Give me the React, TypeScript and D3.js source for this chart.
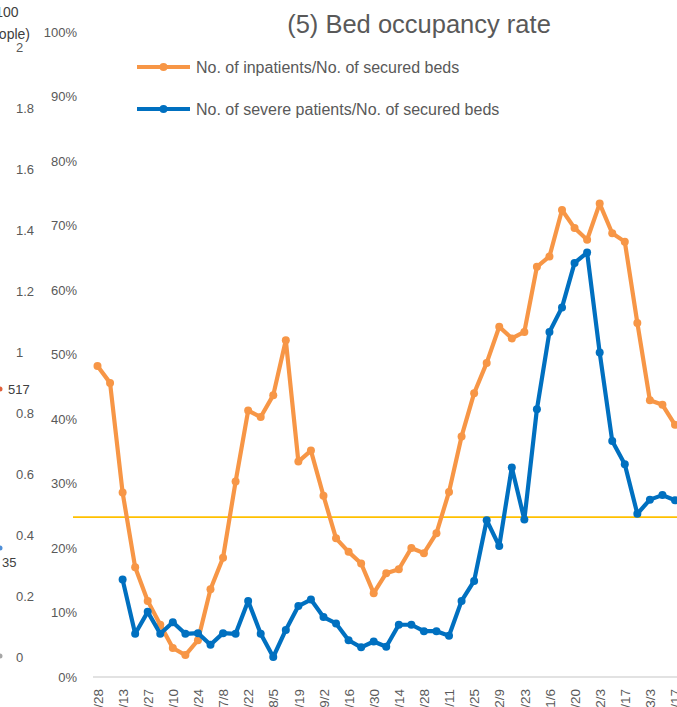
import React, { useRef, useEffect } from 'react';
import { select, scaleLinear, scalePoint, line, axisLeft, axisBottom } from 'd3';

// weekly dates (x categories)
const weeks = [
  '4/28', '5/6', '5/13', '5/20', '5/27', '6/3', '6/10', '6/17', '6/24', '7/1',
  '7/8', '7/15', '7/22', '7/29', '8/5', '8/12', '8/19', '8/26', '9/2', '9/9',
  '9/16', '9/23', '9/30', '10/7', '10/14', '10/21', '10/28', '11/4', '11/11', '11/18',
  '11/25', '12/2', '12/9', '12/16', '12/23', '12/30', '1/6', '1/13', '1/20', '1/27',
  '2/3', '2/10', '2/17', '2/24', '3/3', '3/10', '3/17',
];

// No. of inpatients / No. of secured beds (%)
const inpatientRate = [
  48.2, 45.6, 28.6, 17.0, 11.8, 8.1, 4.5, 3.4, 5.7, 13.6,
  18.5, 30.3, 41.3, 40.3, 43.7, 52.2, 33.4, 35.1, 28.1, 21.5,
  19.4, 17.6, 13.0, 16.1, 16.7, 20.0, 19.2, 22.3, 28.7, 37.3,
  44.0, 48.7, 54.3, 52.5, 53.5, 63.6, 65.2, 72.4, 69.6, 67.8,
  73.4, 68.8, 67.5, 54.9, 42.9, 42.2, 39.1,
];

// No. of severe patients / No. of secured beds (%), starts 5/13
const severeRate = [
  null, null, 15.1, 6.7, 10.1, 6.7, 8.5, 6.7, 6.8, 5.0,
  6.8, 6.7, 11.8, 6.7, 3.1, 7.3, 11.0, 12.0, 9.3, 8.3,
  5.7, 4.6, 5.5, 4.7, 8.1, 8.1, 7.1, 7.1, 6.4, 11.8,
  14.9, 24.3, 20.3, 32.5, 24.4, 41.5, 53.5, 57.3, 64.2, 65.8,
  50.3, 36.6, 33.0, 25.3, 27.5, 28.2, 27.4,
];

const thresholdValue = 24.8;
const pctTicks = [0, 10, 20, 30, 40, 50, 60, 70, 80, 90, 100];
// remains of the neighbouring chart's axis on the left edge
const leftTicks = [0, 0.2, 0.4, 0.6, 0.8, 1, 1.2, 1.4, 1.6, 1.8, 2];

const series = [
  { name: 'No. of inpatients/No. of secured beds', values: inpatientRate, color: '#F79646' },
  { name: 'No. of severe patients/No. of secured beds', values: severeRate, color: '#0070C0' },
];

const W = 677;
const H = 707;
const FONT = '"Liberation Sans", Arial, sans-serif';
const GREY = '#595959';

function BedChart() {
  const svgRef = useRef<SVGSVGElement>(null);

  useEffect(() => {
    const svg = select(svgRef.current);
    svg.selectAll('*').remove();

    const x = scalePoint<number>()
      .domain(weeks.map((d, i) => i))
      .range([97.5, 675]);
    const y = scaleLinear().domain([0, 100]).range([677, 32]);
    const yLeft = scaleLinear().domain([0, 2]).range([657, 47]);

    // clipped neighbour axis
    const gl = svg.append('g').attr('transform', 'translate(16,0)');
    gl.call(axisLeft(yLeft).tickValues(leftTicks).tickSize(0).tickFormat((d) => String(d)));
    gl.select('.domain').remove();
    gl.selectAll('text')
      .attr('text-anchor', 'start')
      .attr('x', 0)
      .attr('fill', GREY)
      .style('font-size', '13px')
      .style('font-family', FONT);

    // neighbour chart label fragments
    const frag = [
      { t: '(100', x: 18.5, y: 17, anchor: 'end', size: 14 },
      { t: '(people)', x: 30, y: 39, anchor: 'end', size: 14 },
      { t: '517', x: 8, y: 394, anchor: 'start', size: 13 },
      { t: '35', x: 2, y: 567, anchor: 'start', size: 13 },
    ];
    svg.selectAll('.frag')
      .data(frag)
      .join('text')
      .attr('class', 'frag')
      .attr('x', (d) => d.x)
      .attr('y', (d) => d.y)
      .attr('text-anchor', (d) => d.anchor)
      .attr('fill', '#404040')
      .style('font-size', (d) => `${d.size}px`)
      .style('font-family', FONT)
      .text((d) => d.t);
    svg.selectAll('.fragdot')
      .data([
        { y: 389, c: '#E0603A' },
        { y: 548, c: '#4F8FD8' },
        { y: 656, c: '#A6A6A6' },
      ])
      .join('circle')
      .attr('cx', 0)
      .attr('cy', (d) => d.y)
      .attr('r', 2.5)
      .attr('fill', (d) => d.c);

    // percent axis
    const gy = svg.append('g').attr('transform', 'translate(77,0)');
    gy.call(axisLeft(y).tickValues(pctTicks).tickSize(0).tickFormat((d) => `${d}%`));
    gy.select('.domain').remove();
    gy.selectAll('text')
      .attr('x', 0)
      .attr('fill', GREY)
      .style('font-size', '13px')
      .style('font-family', FONT);

    // x axis
    const gx = svg.append('g').attr('transform', `translate(0,${y(0)})`);
    gx.call(
      axisBottom(x)
        .tickValues(weeks.map((d, i) => i).filter((i) => i % 2 === 0))
        .tickSize(0)
        .tickFormat((i) => weeks[i as number])
    );
    gx.select('.domain').attr('stroke', '#D9D9D9').attr('stroke-width', 1.5).attr('d', `M93,0H${W}`);
    gx.selectAll('text')
      .attr('transform', 'rotate(-90)')
      .attr('text-anchor', 'end')
      .attr('x', -12)
      .attr('y', 0)
      .attr('dy', '0.35em')
      .attr('fill', GREY)
      .style('font-size', '13.5px')
      .style('font-family', FONT);

    // threshold line
    svg.append('line')
      .attr('x1', 73)
      .attr('x2', W)
      .attr('y1', y(thresholdValue))
      .attr('y2', y(thresholdValue))
      .attr('stroke', '#FFC000')
      .attr('stroke-width', 1.8);

    const lineGen = line<number | null>()
      .defined((d) => d != null)
      .x((d, i) => x(i) as number)
      .y((d) => y(d as number));

    series.forEach((s) => {
      svg.append('path')
        .datum(s.values)
        .attr('fill', 'none')
        .attr('stroke', s.color)
        .attr('stroke-width', 4.2)
        .attr('stroke-linejoin', 'round')
        .attr('d', lineGen);
      svg.append('g')
        .selectAll('circle')
        .data(s.values.map((v, i) => ({ v, i })).filter((d) => d.v != null))
        .join('circle')
        .attr('cx', (d) => x(d.i) as number)
        .attr('cy', (d) => y(d.v as number))
        .attr('r', 4)
        .attr('fill', s.color);
    });

    // title
    svg.append('text')
      .attr('x', 419)
      .attr('y', 33)
      .attr('text-anchor', 'middle')
      .attr('fill', GREY)
      .style('font-size', '25.5px')
      .style('font-family', FONT)
      .text('(5) Bed occupancy rate');

    // legend
    const lg = svg.selectAll('.legend')
      .data(series)
      .join('g')
      .attr('class', 'legend')
      .attr('transform', (d, i) => `translate(137,${67 + i * 42})`);
    lg.append('line')
      .attr('x1', 0)
      .attr('x2', 53)
      .attr('stroke', (d) => d.color)
      .attr('stroke-width', 4.2);
    lg.append('circle').attr('cx', 26.5).attr('r', 4).attr('fill', (d) => d.color);
    lg.append('text')
      .attr('x', 59)
      .attr('dy', '0.35em')
      .attr('fill', GREY)
      .style('font-size', '16px')
      .style('font-family', FONT)
      .text((d) => d.name);
  }, []);

  return <svg ref={svgRef} width={W} height={H} style={{ display: 'block', overflow: 'hidden' }} />;
}

export default function App() {
  return (
    <div style={{ position: 'fixed', left: 0, top: 0, width: W, height: H, overflow: 'hidden', background: '#fff' }}>
      <BedChart />
    </div>
  );
}
